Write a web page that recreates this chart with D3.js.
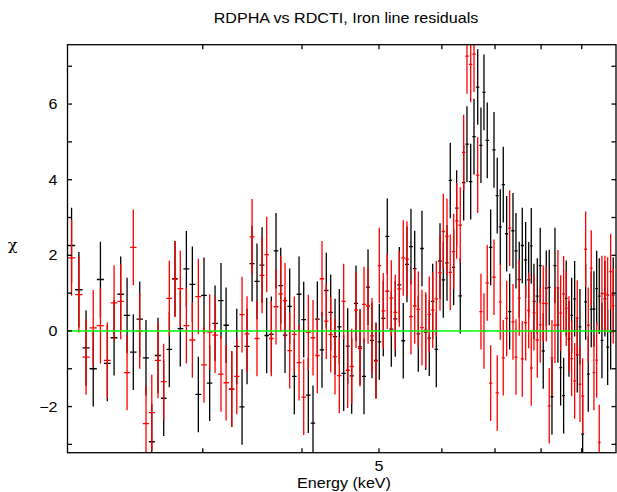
<!DOCTYPE html>
<html><head><meta charset="utf-8">
<script src="https://cdn.jsdelivr.net/npm/d3@7"></script>
<style>body{margin:0;background:#fff}svg{display:block}</style>
</head><body><svg id="c" width="617" height="492"></svg>
<script>
const title = "RDPHA vs RDCTI, Iron line residuals";
const xLabel = "Energy (keV)";
const yLabel = "χ";
const xTickValues = [3, 4, 5, 6, 7, 8, 9];
const xTickLabels = [5];
const yTickValues = [-3, -2, -1, 0, 1, 2, 3, 4, 5, 6, 7];
const yTickLabels = [-2, 0, 2, 4, 6];
const xDomain = [2.027, 9.94];
const yDomain = [-3.22, 7.57];
const sigma = 1;

const energy = [2.051,2.095,2.139,2.184,2.230,2.275,2.320,2.365,2.409,2.453,
2.499,2.545,2.588,2.635,2.679,2.723,2.768,2.811,2.861,2.911,
2.962,3.011,3.061,3.109,3.163,3.210,3.263,3.311,3.362,3.411,
3.461,3.511,3.563,3.611,3.660,3.710,3.761,3.808,3.860,3.912,
3.966,4.020,4.074,4.130,4.182,4.239,4.292,4.347,4.402,4.457,
4.514,4.567,4.620,4.678,4.733,4.788,4.844,4.900,4.957,5.005,
5.063,5.122,5.182,5.242,5.304,5.365,5.423,5.486,5.546,5.604,
5.664,5.725,5.785,5.843,5.904,5.968,6.025,6.090,6.148,6.209,
6.263,6.329,6.392,6.453,6.523,6.586,6.657,6.720,6.779,6.844,
6.912,6.979,7.045,7.107,7.169,7.240,7.303,7.374,7.438,7.509,
7.575,7.650,7.717,7.775,7.836,7.912,7.980,8.050,8.121,8.191,
8.256,8.328,8.400,8.466,8.540,8.605,8.673,8.741,8.817,8.884,
8.954,9.024,9.103,9.172,9.252,9.324,9.398,9.469,9.543,9.626,
9.702,9.787,9.861];

const chiBlack = [2.26,1.09,-0.45,-1.00,1.36,-0.86,-0.18,0.97,0.41,-0.56,
0.31,-0.71,-2.93,-0.65,-1.78,-0.49,1.38,0.06,1.64,1.23,
-1.68,0.94,-1.38,0.20,0.80,0.15,-1.54,-0.41,-2.01,-0.41,
1.78,1.31,1.74,-0.12,-0.09,2.12,1.20,-0.11,0.65,-1.20,
0.97,0.30,-1.70,-2.44,0.31,-0.50,1.07,0.49,-0.15,0.11,
-1.12,-0.40,-1.19,0.73,-0.42,-1.20,1.16,-0.25,-0.78,-0.29,
0.33,2.50,0.05,0.32,1.22,-0.26,1.76,2.23,1.65,-0.08,
2.18,-0.03,-0.19,0.78,-0.49,1.85,1.35,1.80,3.98,1.68,
3.25,0.93,3.92,4.94,3.95,5.14,6.45,4.91,6.31,5.04,
2.21,4.79,3.58,2.75,3.87,2.57,0.51,2.65,2.12,1.36,
2.26,1.88,1.35,2.25,0.78,0.92,1.73,-0.53,1.13,1.15,
-1.74,1.73,0.16,-0.97,-1.71,0.86,-0.21,0.41,0.85,-0.63,
0.11,-2.73,0.77,-1.14,0.57,0.58,1.12,0.92,-0.25,0.85,
-0.43,-0.02,0.95];

const chiRed = [1.93,0.96,-0.69,0.08,0.14,-0.78,0.74,0.78,-1.10,2.21,
0.00,-2.45,-2.16,-0.78,-1.34,0.86,1.37,1.12,0.14,-0.24,
0.91,-0.90,-0.03,-0.11,-1.14,-1.37,-1.54,-1.20,0.43,-0.08,
2.49,-0.20,1.47,2.02,-0.20,0.64,0.98,0.80,-0.52,-0.09,
-0.84,-1.75,-0.04,-0.18,-0.65,1.38,0.26,-0.10,-0.68,-1.18,
0.78,-1.04,-0.94,0.55,-0.47,0.70,0.66,-0.13,-0.80,1.73,
0.53,1.05,0.87,0.49,1.11,1.93,1.90,0.38,0.66,0.57,
0.09,0.02,0.44,0.55,0.85,1.54,2.63,2.50,1.55,2.10,
2.91,2.80,4.72,7.27,7.05,7.32,4.12,0.51,0.00,1.27,
-1.38,1.42,-1.64,0.77,-0.71,0.33,2.72,0.24,-0.69,0.87,
-0.74,0.22,0.54,-0.98,0.48,-0.24,0.16,0.73,0.72,-1.98,
-0.71,0.15,1.14,0.47,0.98,0.60,-0.08,-0.73,-1.32,0.34,
-1.41,-1.72,2.16,0.15,1.66,-1.10,-0.77,-2.95,0.99,0.99,
0.95,1.57,0.67];

const L = 67.5, R = 616, T = 44.7, B = 452.7;
const svg = d3.select("#c");
const x = d3.scaleLog().domain(xDomain).range([L, R]);
const y = d3.scaleLinear().domain(yDomain).range([B, T]);
const FONT = "'Liberation Sans', Arial, Helvetica, sans-serif";
const SX = 1.15;

function label(txt, px, py, anchor, size, family) {
  svg.append("text")
    .attr("transform", `translate(${px},${py}) scale(${SX},1)`)
    .attr("text-anchor", anchor)
    .attr("font-family", family || FONT)
    .attr("font-size", size || 14)
    .attr("fill", "#000")
    .text(txt);
}

// bin edges (geometric midpoints)
const edges = [];
for (let i = 0; i <= energy.length; i++) {
  if (i === 0) edges.push(energy[0] * Math.sqrt(energy[0] / energy[1]));
  else if (i === energy.length) edges.push(energy[i-1] * Math.sqrt(energy[i-1] / energy[i-2]));
  else edges.push(Math.sqrt(energy[i-1] * energy[i]));
}

svg.append("defs").append("clipPath").attr("id", "clip")
  .append("rect").attr("x", L).attr("y", T).attr("width", R - L).attr("height", B - T);
const plot = svg.append("g").attr("clip-path", "url(#clip)");

function series(vals, color) {
  const g = plot.append("g").attr("stroke", color).attr("stroke-width", 1.3).attr("fill", "none");
  vals.forEach((v, i) => {
    const cx = x(energy[i]);
    g.append("line").attr("x1", cx).attr("x2", cx)
      .attr("y1", y(v - sigma)).attr("y2", y(v + sigma));
    g.append("line").attr("x1", x(edges[i])).attr("x2", x(edges[i+1]))
      .attr("y1", y(v)).attr("y2", y(v));
  });
}
series(chiBlack, "#000000");
series(chiRed, "#ff0000");

// model line (zero residual)
plot.append("line").attr("x1", L).attr("x2", R).attr("y1", y(0)).attr("y2", y(0))
  .attr("stroke", "#00ff00").attr("stroke-width", 1.5);

// frame & ticks
const ax = svg.append("g").attr("stroke", "#000").attr("stroke-width", 1.3).attr("fill", "none");
ax.append("rect").attr("x", L).attr("y", T).attr("width", R - L).attr("height", B - T);
const tl = 4.5;
xTickValues.forEach(v => {
  const px = x(v);
  ax.append("line").attr("x1", px).attr("x2", px).attr("y1", B).attr("y2", B - tl);
  ax.append("line").attr("x1", px).attr("x2", px).attr("y1", T).attr("y2", T + tl);
});
yTickValues.forEach(v => {
  const py = y(v);
  if (py < T || py > B) return;
  ax.append("line").attr("x1", L).attr("x2", L + tl).attr("y1", py).attr("y2", py);
  ax.append("line").attr("x1", R).attr("x2", R - tl).attr("y1", py).attr("y2", py);
});

// tick labels
xTickLabels.forEach(v => label(String(v), x(v), 471, "middle"));
yTickLabels.forEach(v => label(v < 0 ? "\u2212" + Math.abs(v) : String(v), 57.5, y(v) + 5, "end"));

// titles
label(title, 346, 23.3, "middle");
label(xLabel, 344, 488, "middle");
label(yLabel, 12.5, 250, "middle", 14, "'DejaVu Serif', 'DejaVu Sans', serif");
</script></body></html>
